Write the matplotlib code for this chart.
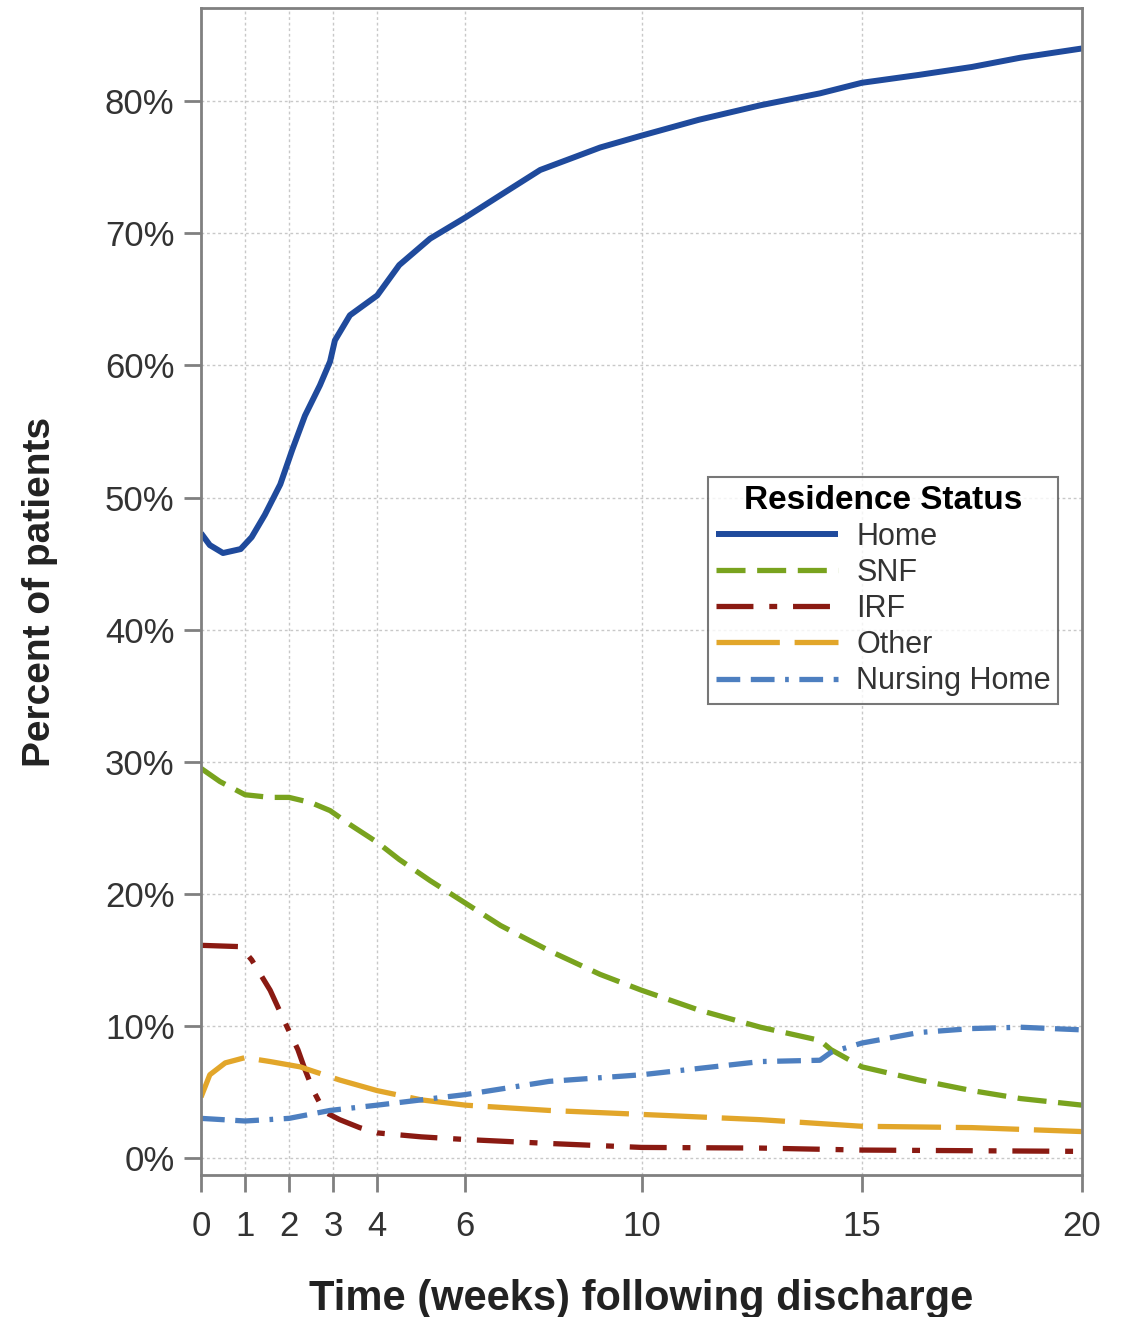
import numpy as np
import matplotlib
matplotlib.use("Agg")
import matplotlib.pyplot as plt
from matplotlib.ticker import FuncFormatter

plt.rcParams['font.family'] = ['Liberation Sans', 'DejaVu Sans']

# values (weeks, percent of patients)
home_x = [0, 0.2, 0.5, 0.9, 1.15, 1.45, 1.8, 2.07, 2.36, 2.7, 2.93, 3.04, 3.38, 4.0, 4.5, 5.2,
          6.0, 6.8, 7.7, 9.06, 10, 11.3, 12.7, 14.05, 15, 16.3, 17.5, 18.6, 20]
home_y = [47.3, 46.4, 45.8, 46.1, 47.0, 48.7, 51.0, 53.6, 56.2, 58.5, 60.3, 61.9, 63.8, 65.3, 67.6, 69.6,
          71.2, 72.9, 74.8, 76.5, 77.4, 78.6, 79.7, 80.6, 81.4, 82.0, 82.6, 83.3, 84.0]

snf_x = [0, 0.43, 1, 1.57, 2.0, 2.5, 2.93, 3.4, 4, 4.5, 5.2, 6, 6.8, 7.9, 9.06, 10, 11.3,
         12.7, 14.05, 14.3, 15, 16.3, 17.5, 18.6, 20]
snf_y = [29.5, 28.5, 27.5, 27.3, 27.3, 26.9, 26.3, 25.2, 23.9, 22.6, 21.0, 19.3, 17.6, 15.7, 13.9, 12.7, 11.2,
         9.9, 8.9, 8.2, 6.9, 5.9, 5.1, 4.5, 4.0]

irf_x = [0, 0.9, 1.15, 1.57, 1.9, 2.2, 2.36, 2.55, 2.8, 3.15, 3.6, 4, 5, 6, 7.9, 10, 12.7, 15, 20]
irf_y = [16.1, 16.0, 15.0, 12.7, 10.3, 8.2, 6.7, 5.1, 3.5, 2.9, 2.3, 1.9, 1.6, 1.4, 1.1, 0.8, 0.75, 0.6, 0.5]

other_x = [0, 0.2, 0.55, 1, 1.57, 2.25, 2.7, 3.15, 4, 5, 6, 7.9, 10, 12.7, 15, 17.5, 20]
other_y = [4.6, 6.3, 7.2, 7.6, 7.3, 6.9, 6.4, 5.9, 5.1, 4.4, 4.0, 3.6, 3.3, 2.9, 2.4, 2.3, 2.0]

nh_x = [0, 1, 2, 2.93, 4, 6, 7.9, 10, 12.7, 14.05, 14.3, 15, 16.3, 17.5, 18.6, 20]
nh_y = [3.0, 2.8, 3.0, 3.6, 4.0, 4.8, 5.8, 6.3, 7.3, 7.4, 8.0, 8.7, 9.5, 9.8, 9.9, 9.7]

series = [
    ("Home", home_x, home_y, '#1f4a9c', '-', 4.3),
    ("SNF", snf_x, snf_y, '#79a31e', (0, (5.5, 2.2)), 3.8),
    ("IRF", irf_x, irf_y, '#8a1a12', (0, (7, 3, 1.5, 3)), 3.8),
    ("Other", other_x, other_y, '#e2a62a', (0, (12, 2.8)), 3.8),
    ("Nursing Home", nh_x, nh_y, '#4d7fc0', (0, (4.5, 2, 4.5, 2, 0.7, 2)), 3.8),
]

xticks = [0, 1, 2, 3, 4, 6, 10, 15, 20]
yticks = [0, 10, 20, 30, 40, 50, 60, 70, 80]

fig = plt.figure(figsize=(11.26, 13.17), dpi=100)
ax = fig.add_axes([0.1785, 0.1078, 0.7825, 0.8861])

for name, xs, ys, col, ls, lw in series:
    ax.plot(xs, ys, color=col, linestyle=ls, linewidth=lw, label=name,
            solid_capstyle='butt', dash_capstyle='butt')

ax.set_xlim(0, 20)
ax.set_ylim(-1.29, 87.06)
ax.set_xticks(xticks)
ax.set_yticks(yticks)
ax.yaxis.set_major_formatter(FuncFormatter(lambda v, p: '%d%%' % v))
ax.grid(True, color='#c8c8c8', linestyle=(0, (2, 2)), linewidth=1.0)
ax.set_axisbelow(True)
for s in ax.spines.values():
    s.set_color('#808080')
    s.set_linewidth(2)
ax.tick_params(direction='out', length=12, width=2, color='#808080',
               labelsize=25, labelcolor='#333333')
ax.tick_params(axis='y', pad=7)
ax.tick_params(axis='x', pad=13)

ax.set_xlabel('Time (weeks) following discharge', fontsize=30, fontweight='bold',
              color='#222222')
ax.xaxis.set_label_coords(0.5, -0.089)
ax.set_ylabel('Percent of patients', fontsize=28, fontweight='bold',
              color='#222222')
ax.yaxis.set_label_coords(-0.162, 0.5)

leg = ax.legend(title='Residence Status', loc='upper left',
                bbox_to_anchor=(708 / 1126, 1 - 477 / 1317), bbox_transform=fig.transFigure,
                borderaxespad=0, fontsize=22, title_fontsize=24, frameon=True, fancybox=False,
                edgecolor='#555555', handlelength=4.0, handletextpad=0.6,
                labelspacing=0.2, borderpad=0.25)
leg.get_title().set_fontweight('bold')
leg.get_frame().set_linewidth(1.5)
for t in leg.get_texts():
    t.set_color('#333333')

fig.savefig('out.png', dpi=100)
